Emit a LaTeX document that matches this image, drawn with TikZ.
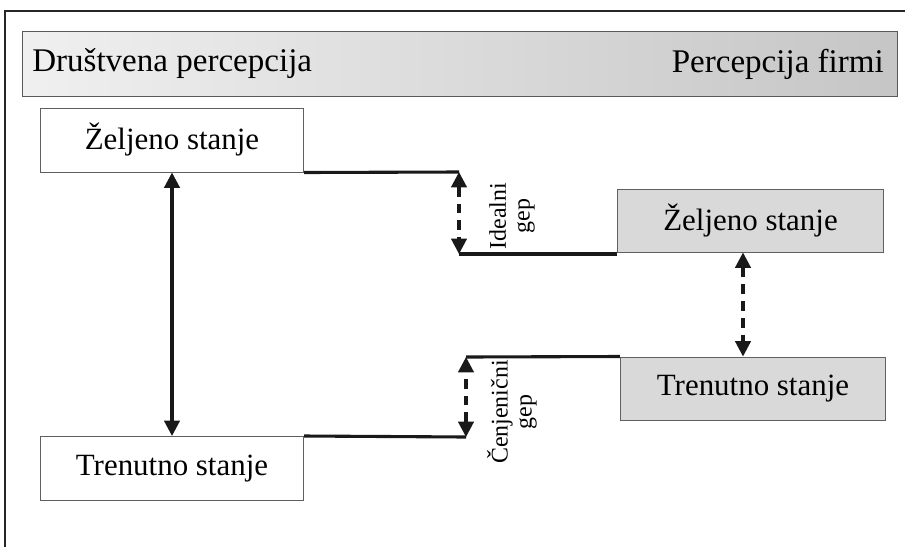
\documentclass[tikz,border=0pt]{standalone}
\usepackage{fontspec}
\setmainfont{Liberation Serif}
\usetikzlibrary{arrows.meta}

\tikzset{
  stanje/.style={draw=gray!75!black, line width=0.7pt, minimum width=6.575cm, minimum height=1.6cm, inner sep=0pt},
  stanjeF/.style={stanje, fill=gray!30, minimum width=6.625cm, minimum height=1.575cm},
  veza/.style={line width=2.2pt, black!90},
  strelica/.style={line width=2.2pt, black!90, {Triangle[length=11pt,width=11pt]}-{Triangle[length=11pt,width=11pt]}},
  crtkana/.style={strelica, dash pattern=on 7pt off 5pt},
  oznaka/.style={rotate=90, align=center, inner sep=0pt, font=\fontsize{17}{17}\selectfont}
}

\begin{document}
\begin{tikzpicture}[x=0.025cm,y=-0.025cm,font=\fontsize{22}{26}\selectfont]
  \useasboundingbox (0,0) rectangle (905,547);
  \draw[line width=2pt,black!85] (5,547) -- (5,11) -- (905,11);

  % traka s naslovima
  \shade[left color=gray!12, right color=gray!45, draw=gray!70!black, line width=0.7pt] (22,31) rectangle (897,96);
  \node[anchor=west, inner sep=0pt, font=\fontsize{23.5}{26}\selectfont] (drustvo) at (32,64) {Društvena percepcija};
  \node[anchor=east, inner sep=0pt, font=\fontsize{23.5}{26}\selectfont] (firme) at (884,64) {Percepcija firmi};

  % stanja
  \node[stanje] (druZel) at (172,140) {Željeno stanje};
  \node[stanje] (druTren) at (172,468.5) {Trenutno stanje};
  \node[stanjeF] (firZel) at (750.5,220.5) {Željeno stanje};
  \node[stanjeF] (firTren) at (753,388.5) {Trenutno stanje};

  \draw[strelica] (druZel.south) -- (druTren.north);
  \draw[crtkana] (743,0 |- firZel.south) -- (743,0 |- firTren.north);

  % gepovi
  \coordinate (idGore) at (459,172);
  \coordinate (idDole) at (459,254);
  \draw[veza] (druZel.south east) -- (idGore);
  \draw[veza] (idDole) -- (idDole -| firZel.west);
  \draw[crtkana] (idGore) -- (idDole);

  \coordinate (cjGore) at (466,357);
  \coordinate (cjDole) at (466,437);
  \draw[veza] (cjGore) -- (firTren.north west);
  \draw[veza] (druTren.north east) -- (cjDole);
  \draw[crtkana] (cjDole) -- (cjGore);

  \node[oznaka] (idealni) at (512,216) {Idealni\\gep};
  \node[oznaka] (cjenovni) at (512,412) {Čenjenični\\gep};
\end{tikzpicture}
\end{document}
